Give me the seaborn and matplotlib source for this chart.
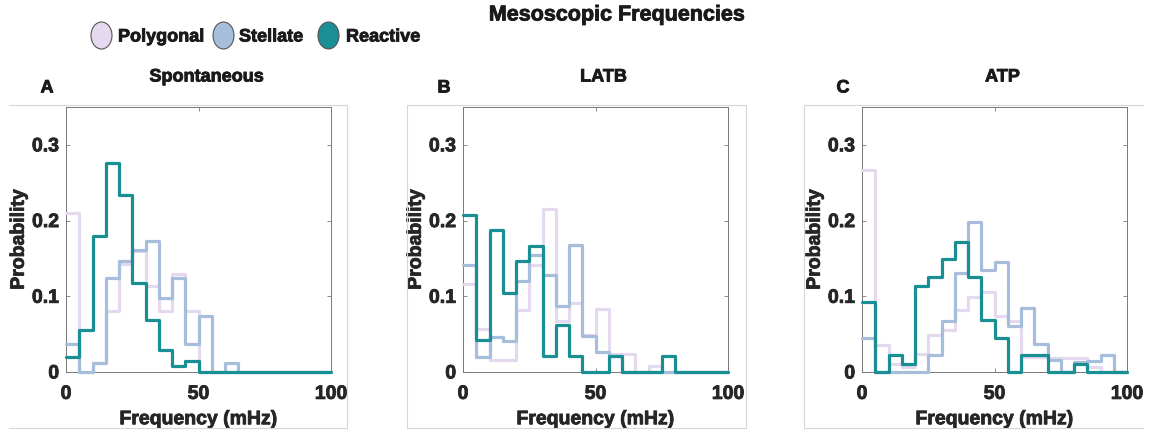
import numpy as np
import pandas as pd
import matplotlib
matplotlib.use("Agg")
import matplotlib.pyplot as plt
import matplotlib.patheffects as pe
import seaborn as sns
from matplotlib.patches import Ellipse
from matplotlib.lines import Line2D

# ---------------- data ----------------
bin_edges = [float(v) for v in range(0, 105, 5)]
bin_centers = [e + 2.5 for e in bin_edges[:-1]]

groups = ["Polygonal", "Stellate", "Reactive"]
panels = ["Spontaneous", "LATB", "ATP"]
panel_letters = ["A", "B", "C"]

poly_A = [0.21, 0, 0.012, 0.081, 0.143, 0.16, 0.113, 0.081, 0.129, 0.081, 0, 0, 0, 0, 0, 0, 0, 0, 0, 0]
stel_A = [0.037, 0, 0.012, 0.124, 0.147, 0.161, 0.173, 0.098, 0.124, 0.037, 0.074, 0, 0.012, 0, 0, 0, 0, 0, 0, 0]
reac_A = [0.02, 0.055, 0.179, 0.276, 0.234, 0.117, 0.069, 0.029, 0.0075, 0.015, 0, 0, 0, 0, 0, 0, 0, 0, 0, 0]

poly_B = [0.116, 0.057, 0.016, 0.016, 0.082, 0.141, 0.215, 0.067, 0.091, 0.049, 0.083, 0.024, 0.024, 0, 0.008, 0, 0, 0, 0, 0]
stel_B = [0.141, 0.02, 0.046, 0.041, 0.12, 0.154, 0.128, 0.087, 0.168, 0.047, 0.027, 0.021, 0, 0, 0, 0, 0, 0, 0, 0]
reac_B = [0.208, 0.042, 0.1875, 0.1045, 0.146, 0.167, 0.021, 0.0626, 0.021, 0, 0, 0.021, 0, 0, 0, 0.021, 0, 0, 0, 0]

poly_C = [0.267, 0.036, 0.011, 0.007, 0.024, 0.049, 0.056, 0.082, 0.099, 0.106, 0.074, 0.068, 0.02, 0.02, 0.018, 0.018, 0.018, 0.007, 0, 0]
stel_C = [0.045, 0, 0, 0, 0, 0.022, 0.068, 0.131, 0.198, 0.135, 0.145, 0.061, 0.084, 0.0375, 0.016, 0, 0.013, 0.015, 0.022, 0]
reac_C = [0.092, 0, 0.022, 0.011, 0.114, 0.126, 0.149, 0.172, 0.125, 0.069, 0.045, 0, 0.022, 0.022, 0, 0, 0.011, 0, 0, 0]

panel_data = [
    [poly_A, stel_A, reac_A],
    [poly_B, stel_B, reac_B],
    [poly_C, stel_C, reac_C],
]

x_ticks = [0, 50, 100]
y_ticks = [0, 0.1, 0.2, 0.3]
y_tick_labels = ["0", "0.1", "0.2", "0.3"]

colors = {"Polygonal": "#E4D9EE", "Stellate": "#A6BEDC", "Reactive": "#1A8F93"}

# ---------------- style ----------------
sns.set_style("white")
plt.rcParams["font.family"] = ["Liberation Sans", "DejaVu Sans"]
plt.rcParams["font.weight"] = "bold"

W, H = 1153, 433
fig = plt.figure(figsize=(W / 100, H / 100), dpi=100)

TXT = "#1a1a1a"


def heavy(color=TXT, w=0.6):
    return [pe.withStroke(linewidth=w, foreground=color)]


def fx(px):
    return px / W


def fy(py):
    return 1 - py / H


axes_left = [66, 463, 862]
ax_w = 265
ax_top, ax_bot = 107, 372

for i, (left, name, letter) in enumerate(zip(axes_left, panels, panel_letters)):
    ax = fig.add_axes([fx(left), fy(ax_bot), ax_w / W, (ax_bot - ax_top) / H])
    for g, vals in zip(groups, panel_data[i]):
        df = pd.DataFrame({"freq": bin_centers, "prob": [float(v) for v in vals]})
        sns.histplot(data=df, x="freq", weights="prob", bins=bin_edges, element="step",
                     fill=False, color=colors[g], linewidth=2.3, ax=ax,
                     clip_on=False, zorder=3)
    ax.set_xlim(0, 100)
    ax.set_ylim(0, 0.35)
    ax.set_xticks(x_ticks)
    ax.set_xticklabels([str(t) for t in x_ticks])
    ax.set_yticks(y_ticks)
    ax.set_yticklabels(y_tick_labels)
    ax.tick_params(axis="both", which="both", direction="in", length=3, width=0.6,
                   color="#777777", labelsize=14, labelcolor="#262626",
                   top=True, right=True, bottom=True, left=True)
    ax.tick_params(axis="x", pad=10)
    ax.tick_params(axis="y", pad=5)
    for lab in ax.get_xticklabels() + ax.get_yticklabels():
        lab.set_fontweight("bold")
        lab.set_path_effects(heavy("#262626"))
    for sp in ax.spines.values():
        sp.set_color("#777777")
        sp.set_linewidth(0.7)
        sp.set_visible(True)
    xl = ax.set_xlabel("Frequency (mHz)", fontsize=14, fontweight="bold", color="#262626", labelpad=6)
    yl = ax.set_ylabel("Probability", fontsize=14, fontweight="bold", color="#262626", labelpad=3)
    xl.set_path_effects(heavy("#262626"))
    yl.set_path_effects(heavy("#262626"))
    # panel title and letter
    fig.text(fx(left + ax_w / 2 + 8), fy(77), name, fontsize=13, fontweight="bold",
             ha="center", va="center", color=TXT, path_effects=heavy())
    fig.text(fx(left - 19), fy(88), letter, fontsize=13, fontweight="bold",
             ha="center", va="center", color=TXT, path_effects=heavy())

# faint outer frames of each panel image
frame_col = "#d6d6d6"
frames = [(9, 347), (407, 746), (804, 1143)]
for k, (l, r) in enumerate(frames):
    for yy in (105, 428):
        fig.add_artist(Line2D([fx(l), fx(r)], [fy(yy), fy(yy)], color=frame_col, lw=0.8,
                              transform=fig.transFigure))
    if k > 0:
        fig.add_artist(Line2D([fx(l), fx(l)], [fy(105), fy(428)], color=frame_col, lw=0.8,
                              transform=fig.transFigure))
    if k < 2:
        fig.add_artist(Line2D([fx(r), fx(r)], [fy(105), fy(428)], color=frame_col, lw=0.8,
                              transform=fig.transFigure))

# main title
fig.text(fx(617), fy(15), "Mesoscopic Frequencies", fontsize=15.5, fontweight="bold",
         ha="center", va="center", color=TXT, path_effects=heavy())

# legend with ellipses
leg_ell_x = [101.5, 223.5, 328.5]
leg_txt_x = [118, 239, 346]
for g, ex, tx in zip(groups, leg_ell_x, leg_txt_x):
    fig.add_artist(Ellipse((fx(ex), fy(35.5)), 21 / W, 27 / H, transform=fig.transFigure,
                           facecolor=colors[g], edgecolor="#555555", lw=0.8))
    fig.text(fx(tx), fy(37), g, fontsize=13, fontweight="bold", ha="left", va="center",
             color=TXT, path_effects=heavy())

fig.savefig("out.png", dpi=100, facecolor="white")
